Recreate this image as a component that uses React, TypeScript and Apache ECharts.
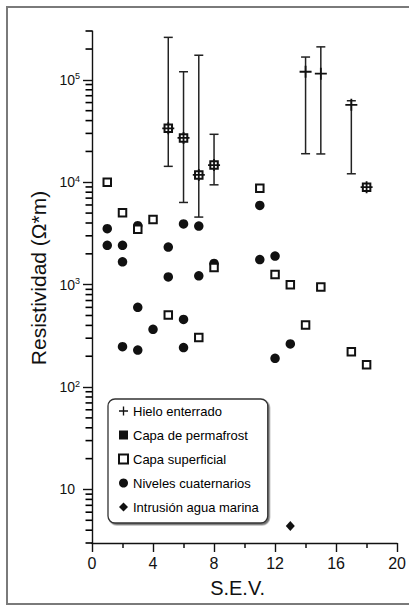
import React, { useEffect, useRef } from "react";
import * as echarts from "echarts";

// ---- data ----
const hieloX = [5, 6, 7, 8, 14, 15, 17, 18];
const hieloY = [33600, 27100, 11800, 14700, 120000, 115000, 57100, 8960];
const errX = [5, 6, 7, 8, 14, 15, 17];
const errLow = [14300, 6350, 4570, 9440, 19000, 18900, 12100];
const errHigh = [260000, 120000, 174000, 29400, 167000, 210000, 62500];

const superficialX = [1, 2, 3, 4, 5, 5, 6, 7, 7, 8, 8, 11, 12, 13, 14, 15, 17, 18, 18];
const superficialY = [10000, 5050, 3470, 4340, 505, 33600, 27100, 304, 11800, 1470, 14700, 8750, 1260, 1000, 404, 950, 221, 165, 8960];

const nivelesX = [1, 1, 2, 2, 2, 3, 3, 3, 4, 5, 5, 6, 6, 6, 7, 7, 8, 11, 11, 12, 12, 13];
const nivelesY = [3520, 2420, 2420, 1670, 248, 3770, 600, 230, 366, 2330, 1190, 3920, 458, 243, 3730, 1220, 1610, 5940, 1760, 1900, 191, 264];

const intrusionX = [13];
const intrusionY = [4.4];

const majorTicksY = [10, 100, 1000, 10000, 100000];
const minorTicksY = [
  3, 4, 5, 6, 7, 8, 9,
  20, 30, 40, 50, 60, 70, 80, 90,
  200, 300, 400, 500, 600, 700, 800, 900,
  2000, 3000, 4000, 5000, 6000, 7000, 8000, 9000,
  20000, 30000, 40000, 50000, 60000, 70000, 80000, 90000,
  200000, 300000,
];

const legendNames = [
  "Hielo enterrado",
  "Capa de permafrost",
  "Capa superficial",
  "Niveles cuaternarios",
  "Intrusión agua marina",
];

const zip = (xs: number[], ys: number[]) => xs.map((x, i) => [x, ys[i]]);

const PLUS =
  "path://M5.1,0h1.8v5.1h5.1v1.8h-5.1v5.1h-1.8v-5.1h-5.1v-1.8h5.1z";

const INK = "#111111";

export default function App() {
  const ref = useRef<HTMLDivElement>(null);
  useEffect(() => {
    if (!ref.current) return;
    const chart = echarts.init(ref.current, undefined, { renderer: "svg" });
    const errData = errX.map((x, i) => [x, errLow[i], errHigh[i]]);
    const minorData = minorTicksY.map((v) => [0.001, v, v]);
    chart.setOption({
      animation: false,
      backgroundColor: "#ffffff",
      textStyle: { fontFamily: "Liberation Sans, Arial, sans-serif", color: INK },
      grid: { left: 92, right: 11, top: 31, bottom: 65, containLabel: false },
      legend: {
        orient: "vertical",
        left: 108,
        top: 399,
        padding: [5, 9, 9, 10],
        itemGap: 10,
        itemWidth: 9,
        itemHeight: 9,
        selectedMode: false,
        backgroundColor: "#ffffff",
        borderColor: "#333333",
        borderWidth: 1.3,
        borderRadius: 7,
        shadowColor: "rgba(0,0,0,0.55)",
        shadowOffsetX: 1.5,
        shadowOffsetY: 1.5,
        shadowBlur: 1,
        textStyle: { fontSize: 13, lineHeight: 14, color: "#000000" },
        data: legendNames,
      },
      graphic: [
        { type: "line", shape: { x1: 7, y1: 7, x2: 409, y2: 7 }, style: { stroke: "#7a7a7a", lineWidth: 2 } },
        { type: "line", shape: { x1: 7, y1: 6, x2: 7, y2: 604 }, style: { stroke: "#7a7a7a", lineWidth: 2 } },
        { type: "line", shape: { x1: 6, y1: 604, x2: 409, y2: 604 }, style: { stroke: "#7a7a7a", lineWidth: 2 } },
      ],
      xAxis: {
        type: "value",
        min: 0,
        max: 20,
        interval: 4,
        name: "S.E.V.",
        nameLocation: "middle",
        nameGap: 35,
        nameTextStyle: { fontSize: 20, color: INK, padding: [0, 14, 0, 0] },
        axisLine: { show: true, lineStyle: { color: INK, width: 1.4 } },
        axisTick: { show: true, length: 9, lineStyle: { color: INK, width: 1.4 } },
        minorTick: { show: true, splitNumber: 2, length: 5, lineStyle: { color: INK, width: 1.5 } },
        axisLabel: { fontSize: 16, color: INK, margin: 12 },
        splitLine: { show: false },
      },
      yAxis: {
        type: "log",
        min: 3,
        max: 300000,
        position: "left",
        name: "Resistividad (Ω*m)",
        nameLocation: "middle",
        nameGap: 39,
        nameTextStyle: { fontSize: 21, color: INK, padding: [0, 0, 0, 18] },
        axisLine: { show: true, lineStyle: { color: INK, width: 1.4 } },
        axisTick: { show: true, length: 9, customValues: majorTicksY, lineStyle: { color: INK, width: 1.4 } },
        axisLabel: {
          margin: 12,
          customValues: majorTicksY,
          formatter: (v: number) => {
            const e = Math.round(Math.log10(v));
            return e === 1 ? "{b|10}{s|  }" : "{b|10}{s|" + e + "}";
          },
          rich: {
            b: { fontSize: 14, lineHeight: 16, color: INK },
            s: { fontSize: 9, lineHeight: 9, verticalAlign: "top", color: INK },
          },
        },
        splitLine: { show: false },
      },
      series: [
        {
          name: "Niveles cuaternarios",
          type: "scatter",
          symbol: "circle",
          symbolSize: 9.5,
          itemStyle: { color: INK, opacity: 1 },
          data: zip(nivelesX, nivelesY),
        },
        {
          name: "Capa superficial",
          type: "scatter",
          symbol: "rect",
          symbolSize: 7.5,
          itemStyle: { color: "#ffffff", borderColor: INK, borderWidth: 2, opacity: 1 },
          data: zip(superficialX, superficialY),
        },
        {
          name: "errorbars",
          type: "custom",
          encode: { x: 0, y: [1, 2] },
          renderItem: (params: any, api: any) => {
            const x = api.value(0);
            const lo = api.coord([x, api.value(1)]);
            const hi = api.coord([x, api.value(2)]);
            const cap = 4.5;
            const st = { stroke: "#222222", lineWidth: 1.5 };
            return {
              type: "group",
              children: [
                { type: "line", shape: { x1: lo[0], y1: lo[1], x2: hi[0], y2: hi[1] }, style: st },
                { type: "line", shape: { x1: lo[0] - cap, y1: lo[1], x2: lo[0] + cap, y2: lo[1] }, style: st },
                { type: "line", shape: { x1: hi[0] - cap, y1: hi[1], x2: hi[0] + cap, y2: hi[1] }, style: st },
              ],
            };
          },
          data: errData,
        },
        {
          name: "minorTicks",
          type: "custom",
          silent: true,
          encode: { x: 0, y: [1, 2] },
          renderItem: (params: any, api: any) => {
            const p = api.coord([api.value(0), api.value(1)]);
            return {
              type: "group",
              children: [
                {
                  type: "line",
                  shape: { x1: p[0] - 6.5, y1: p[1], x2: p[0], y2: p[1] },
                  style: { stroke: "#000000", lineWidth: 1.6 },
                },
              ],
            };
          },
          data: minorData,
        },
        {
          name: "Hielo enterrado",
          type: "scatter",
          symbol: PLUS,
          symbolSize: 12,
          itemStyle: { color: INK, opacity: 1 },
          data: zip(hieloX, hieloY),
        },
        {
          name: "Capa de permafrost",
          type: "scatter",
          symbol: "rect",
          symbolSize: 8,
          itemStyle: { color: INK, opacity: 1 },
          data: [],
        },
        {
          name: "Intrusión agua marina",
          type: "scatter",
          symbol: "diamond",
          symbolSize: [9, 10],
          itemStyle: { color: INK, opacity: 1 },
          data: zip(intrusionX, intrusionY),
        },
      ],
    });
    return () => chart.dispose();
  }, []);
  return (
    <div
      ref={ref}
      style={{ position: "fixed", left: 0, top: 0, width: 409, height: 608 }}
    />
  );
}
